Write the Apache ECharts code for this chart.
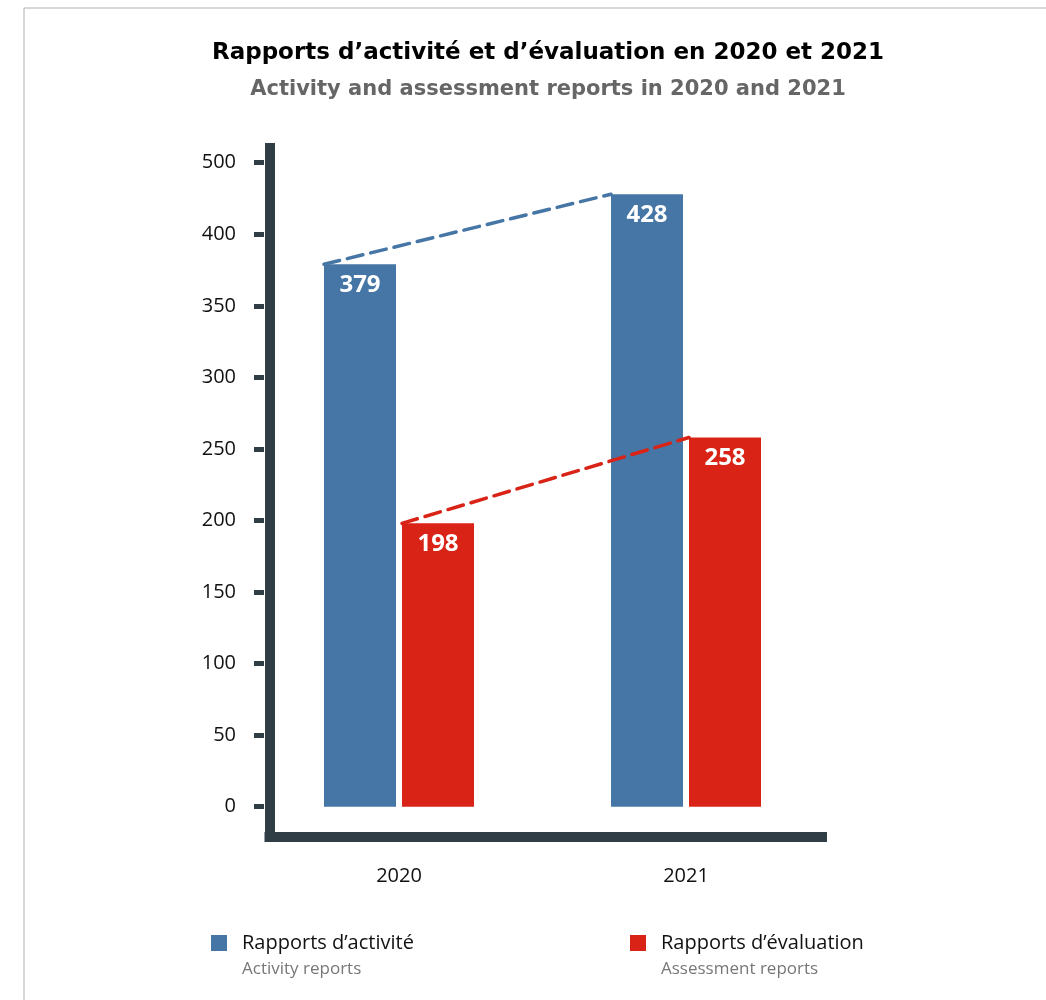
<!DOCTYPE html>
<html>
<head>
<meta charset="utf-8">
<script src="https://cdn.jsdelivr.net/npm/echarts@6/dist/echarts.min.js"></script>
<style>html,body{margin:0;padding:0;background:#fff}#c{width:1046px;height:1000px}</style>
</head>
<body>
<div id="c"></div>
<script>
const categories = ['2020', '2021'];
const activity = [379, 428];
const assessment = [198, 258];
const yTickLabels = ['0', '50', '100', '150', '200', '250', '300', '350', '400', '500'];
const seriesNames = ['Rapports d’activité', 'Rapports d’évaluation'];
const seriesSubNames = ['Activity reports', 'Assessment reports'];
const titleText = 'Rapports d’activité et d’évaluation en 2020 et 2021';
const subTitleText = 'Activity and assessment reports in 2020 and 2021';

const BLUE = '#4676a5', RED = '#d82316', DARK = '#303d44';
const BODY = '"Open Sans", "Noto Sans", sans-serif';
const HEAD = '"DejaVu Sans", sans-serif';
const GRID_LEFT = 255.5, GRID_W = 574, GRID_TOP = 162.7, GRID_H = 644;
const BAR_W = 72, GAP = 6;
const BAND = GRID_W / categories.length;
const blueOff = -(BAR_W + GAP / 2) / BAND;
const redOff = (GAP / 2) / BAND;

const chart = echarts.init(document.getElementById('c'), null, {renderer: 'canvas'});
chart.setOption({
  animation: false,
  backgroundColor: '#fff',
  title: [
    {text: titleText, left: 548, top: 42, textAlign: 'center', padding: 0,
     textStyle: {fontFamily: HEAD, fontWeight: 'bold', fontSize: 23, color: '#000'}},
    {text: subTitleText, left: 548, top: 79, textAlign: 'center', padding: 0,
     textStyle: {fontFamily: HEAD, fontWeight: 'bold', fontSize: 21, color: '#666'}}
  ],
  legend: [
    {data: [seriesNames[0]], left: 211, top: 933, itemWidth: 16, itemHeight: 16, padding: 0,
     selectedMode: false, icon: 'rect',
     textStyle: {fontFamily: BODY, fontSize: 20, color: '#111', padding: [0, 0, 0, 10]}},
    {data: [seriesNames[1]], left: 630, top: 933, itemWidth: 16, itemHeight: 16, padding: 0,
     selectedMode: false, icon: 'rect',
     textStyle: {fontFamily: BODY, fontSize: 20, color: '#111', padding: [0, 0, 0, 10]}}
  ],
  graphic: [
    {type: 'line', shape: {x1: 24, y1: 8, x2: 24, y2: 1000}, style: {stroke: '#b0b0b0', lineWidth: 1}},
    {type: 'line', shape: {x1: 24, y1: 8, x2: 1046, y2: 8}, style: {stroke: '#b0b0b0', lineWidth: 1}},
    {type: 'text', left: 242, top: 961, style: {text: seriesSubNames[0], font: '17px ' + BODY, fill: '#777'}},
    {type: 'text', left: 661, top: 961, style: {text: seriesSubNames[1], font: '17px ' + BODY, fill: '#777'}}
  ],
  grid: [
    {left: GRID_LEFT, top: GRID_TOP, width: GRID_W, height: GRID_H},
    {left: 264.5, top: 143, width: 562.5, height: 693.5}
  ],
  xAxis: [
    {type: 'category', gridIndex: 0, data: categories,
     axisLine: {show: false, onZero: false}, axisTick: {show: false},
     axisLabel: {margin: 60, fontFamily: BODY, fontSize: 20, color: '#111'}},
    {type: 'value', gridIndex: 0, min: -0.5, max: 1.5, show: false},
    {type: 'value', gridIndex: 1, min: 0, max: 1,
     axisLine: {show: true, onZero: false, lineStyle: {color: DARK, width: 10, cap: 'butt'}},
     axisTick: {show: false}, axisLabel: {show: false}, splitLine: {show: false}}
  ],
  yAxis: [
    {type: 'value', gridIndex: 0, min: 0, max: 450, interval: 50, offset: -8.5,
     axisLine: {show: false, onZero: false},
     axisTick: {show: true, length: 10, lineStyle: {color: DARK, width: 5, cap: 'butt'}},
     splitLine: {show: false},
     axisLabel: {margin: 28, fontFamily: BODY, fontSize: 20, color: '#111',
       formatter: v => yTickLabels[Math.round(v / 50)]}},
    {type: 'value', gridIndex: 1, min: 0, max: 1, offset: -5,
     axisLine: {show: true, onZero: false, lineStyle: {color: DARK, width: 10, cap: 'butt'}},
     axisTick: {show: false}, axisLabel: {show: false}, splitLine: {show: false}}
  ],
  series: [
    {name: seriesNames[0], type: 'bar', xAxisIndex: 0, yAxisIndex: 0, data: activity,
     barWidth: BAR_W, barGap: (GAP / BAR_W * 100) + '%', itemStyle: {color: BLUE},
     label: {show: true, position: 'insideTop', distance: 9, color: '#fff',
       fontFamily: BODY, fontWeight: 'bold', fontSize: 24}},
    {name: seriesNames[1], type: 'bar', xAxisIndex: 0, yAxisIndex: 0, data: assessment,
     barWidth: BAR_W, itemStyle: {color: RED},
     label: {show: true, position: 'insideTop', distance: 9, color: '#fff',
       fontFamily: BODY, fontWeight: 'bold', fontSize: 24}},
    {name: 'trend-activity', type: 'line', xAxisIndex: 1, yAxisIndex: 0, z: 5,
     data: activity.map((v, i) => [i + blueOff, v]), symbol: 'none', silent: true,
     lineStyle: {color: BLUE, width: 3.5, type: [16, 8], cap: 'round'}},
    {name: 'trend-assessment', type: 'line', xAxisIndex: 1, yAxisIndex: 0, z: 5,
     data: assessment.map((v, i) => [i + redOff, v]), symbol: 'none', silent: true,
     lineStyle: {color: RED, width: 3.5, type: [16, 8], cap: 'round'}}
  ]
});
</script>
</body>
</html>
